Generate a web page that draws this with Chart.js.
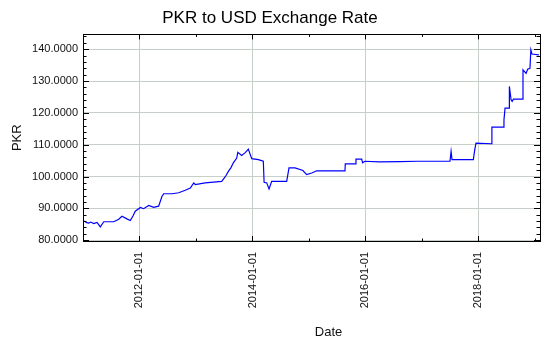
<!DOCTYPE html>
<html>
<head>
<meta charset="utf-8">
<title>PKR to USD Exchange Rate</title>
<script src="https://cdn.jsdelivr.net/npm/chart.js@4/dist/chart.umd.min.js"></script>
<style>
  html, body { margin: 0; padding: 0; background: #fff; }
  #wrap { width: 550px; height: 350px; position: relative; }
</style>
</head>
<body>
<div id="wrap"><canvas id="rate"></canvas></div>
<script>
// PKR per USD, sampled at the dates where the rate changes noticeably
const rateDates = [
  "2011-01-08", "2011-01-25", "2011-02-07", "2011-02-20", "2011-03-11", "2011-04-02", "2011-04-23",
  "2011-05-15", "2011-07-19", "2011-08-20", "2011-09-10", "2011-10-12", "2011-11-03", "2011-11-20",
  "2011-12-05", "2012-01-07", "2012-01-28", "2012-03-01", "2012-04-02", "2012-05-04", "2012-05-26",
  "2012-06-06", "2012-07-30", "2012-09-11", "2012-10-23", "2012-11-25", "2012-12-17", "2012-12-27",
  "2013-03-01", "2013-06-16", "2013-07-03", "2013-07-15", "2013-07-29", "2013-08-15", "2013-08-30",
  "2013-09-21", "2013-09-28", "2013-10-23", "2013-11-15", "2013-12-05", "2013-12-27", "2014-02-08",
  "2014-03-12", "2014-03-17", "2014-04-03", "2014-04-18", "2014-05-05", "2014-08-10", "2014-08-25",
  "2014-10-03", "2014-11-23", "2014-12-17", "2015-01-19", "2015-02-20", "2015-08-22", "2015-08-24",
  "2015-10-26", "2015-11-01", "2015-12-08", "2015-12-14", "2015-12-29", "2016-04-01", "2016-08-11",
  "2016-12-01", "2017-03-01", "2017-07-01", "2017-07-08", "2017-07-14", "2017-11-29", "2017-12-08",
  "2017-12-16", "2018-03-27", "2018-03-29", "2018-06-10", "2018-06-15", "2018-06-22", "2018-07-19",
  "2018-07-20", "2018-07-31", "2018-08-07", "2018-08-15", "2018-10-15", "2018-10-16", "2018-11-05",
  "2018-11-15", "2018-11-30", "2018-12-06", "2018-12-13", "2019-01-27"
];
const rateValues = [
  86.0, 85.5, 85.4, 85.7, 85.2, 85.6, 84.2,
  85.8, 85.8, 86.6, 87.5, 86.7, 86.2, 87.6,
  89.1, 90.3, 89.9, 90.9, 90.3, 90.7, 93.8,
  94.6, 94.6, 94.9, 95.7, 96.4, 98.0, 97.5,
  98.0, 98.5, 99.6, 100.4, 101.6, 102.8, 104.3,
  105.8, 107.6, 106.6, 107.5, 108.6, 105.6, 105.3,
  104.8, 98.2, 98.0, 96.1, 98.5, 98.5, 102.7,
  102.7, 101.9, 100.6, 101.1, 101.8, 101.8, 104.0,
  104.0, 105.5, 105.5, 104.3, 104.8, 104.6, 104.7,
  104.8, 104.8, 104.8, 107.9, 105.3, 105.3, 108.4,
  110.5, 110.3, 115.5, 115.5, 117.8, 121.5, 121.5,
  128.3, 124.1, 123.6, 124.3, 124.3, 133.5, 132.4,
  133.7, 134.0, 139.8, 138.5, 138.2
];

const xTickLabels = ["2012-01-01", "2014-01-01", "2016-01-01", "2018-01-01"];
const yTickValues = [80, 90, 100, 110, 120, 130, 140];
const xRange = ["2011-01-01", "2019-02-03"];
const yRange = [79.75, 144.65];

Chart.defaults.font.family = "'Liberation Sans', Arial, sans-serif";
Chart.defaults.color = "#111";

const gridColor = "rgb(200,206,200)";

// black box round the plot with inward major/minor tick marks on all four sides,
// plus the x axis caption, which sits a little right of the plot centre
const frame = {
  id: "frame",
  afterDatasetsDraw(chart) {
    const { ctx, chartArea: a, scales } = chart;
    const xs = scales.x, ys = scales.y;
    ctx.save();
    ctx.strokeStyle = "#000";
    ctx.lineWidth = 1;
    ctx.beginPath();
    for (let yr = 2011; yr <= 2019; yr++) {
      const px = Math.round(xs.getPixelForValue(Date.parse(yr + "-01-01"))) + 0.5;
      if (px < a.left || px > a.right) continue;
      const len = yr % 2 === 0 ? 5 : 2.5;
      ctx.moveTo(px, a.top); ctx.lineTo(px, a.top + len);
      ctx.moveTo(px, a.bottom); ctx.lineTo(px, a.bottom - len);
    }
    for (let v = 80; v <= 144; v += 2) {
      const py = Math.round(ys.getPixelForValue(v)) + 0.5;
      const len = v % 10 === 0 ? 6 : 3.5;
      ctx.moveTo(a.left, py); ctx.lineTo(a.left + len, py);
      ctx.moveTo(a.right, py); ctx.lineTo(a.right - len, py);
    }
    ctx.stroke();
    ctx.strokeRect(Math.round(a.left) + 0.5, Math.round(a.top) + 0.5,
      Math.round(a.right - a.left), Math.round(a.bottom - a.top));

    ctx.fillStyle = "#111";
    ctx.font = "13px 'Liberation Sans', Arial, sans-serif";
    ctx.textAlign = "center";
    ctx.textBaseline = "middle";
    ctx.fillText("Date", (a.left + a.right) / 2 + 17, xs.bottom - 18);
    ctx.restore();
  }
};

new Chart(document.getElementById("rate"), {
  type: "line",
  data: {
    datasets: [{
      label: "PKR",
      data: rateDates.map((d, i) => ({ x: Date.parse(d), y: rateValues[i] })),
      borderColor: "#0000ff",
      borderWidth: 1.2,
      pointRadius: 0,
      tension: 0,
      fill: false
    }]
  },
  options: {
    responsive: true,
    maintainAspectRatio: false,
    animation: false,
    layout: { padding: { left: 0, right: 10, top: 0, bottom: 0 } },
    plugins: {
      legend: { display: false },
      tooltip: { enabled: false },
      title: {
        display: true,
        text: "PKR to USD Exchange Rate",
        color: "#000",
        font: { size: 17, weight: "normal" },
        padding: { top: 8, bottom: 6 }
      }
    },
    scales: {
      x: {
        type: "linear",
        min: Date.parse(xRange[0]),
        max: Date.parse(xRange[1]),
        afterBuildTicks: s => { s.ticks = xTickLabels.map(d => ({ value: Date.parse(d) })); },
        afterFit: s => { s.height = 109; },
        border: { display: false },
        grid: { color: gridColor, drawTicks: false },
        ticks: {
          maxRotation: 90, minRotation: 90, padding: 11,
          font: { size: 11 }, color: "#111",
          callback: v => new Date(v).toISOString().slice(0, 10)
        },
        title: { display: false }
      },
      y: {
        min: yRange[0],
        max: yRange[1],
        afterBuildTicks: s => { s.ticks = yTickValues.map(v => ({ value: v })); },
        afterFit: s => { s.width = 83; },
        border: { display: false },
        grid: { color: gridColor, drawTicks: false },
        ticks: { padding: 5, font: { size: 11 }, color: "#111", callback: v => Number(v).toFixed(4) },
        title: { display: true, text: "PKR", color: "#111", font: { size: 13 }, padding: { top: 10, bottom: 10 } }
      }
    }
  },
  plugins: [frame]
});
</script>
</body>
</html>
